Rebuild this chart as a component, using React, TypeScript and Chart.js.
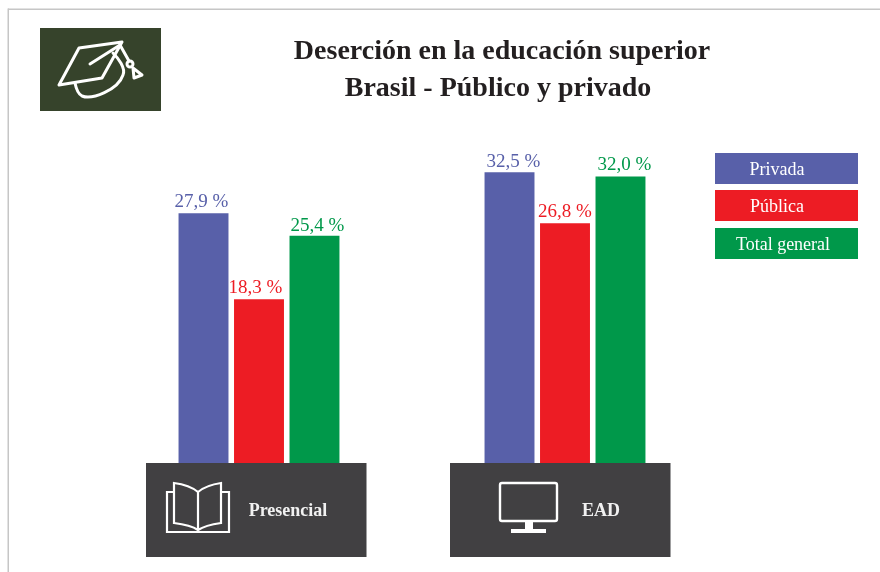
import React, { useEffect, useRef } from "react";
import { Chart, registerables } from "chart.js";

Chart.register(...registerables);

const categories = ["Presencial", "EAD"];
const seriesNames = ["Privada", "Pública", "Total general"];
const privada = [27.9, 32.5];
const publica = [18.3, 26.8];
const totalGeneral = [25.4, 32.0];
const titleLines = ["Deserción en la educación superior", "Brasil - Público y privado"];

const SERIF = '"Liberation Serif", serif';
const PURPLE = "#5860a9";
const RED = "#ed1c24";
const GREEN = "#00984a";

// nudges of the value labels relative to the top centre of each bar: [series][group] = [dx, dy]
const LABEL_NUDGE = [
  [[-2, -6], [4, -5]],
  [[-3.5, -6], [0, -6]],
  [[3, -5], [4, -7]],
];

function drawCap(c: CanvasRenderingContext2D) {
  c.fillStyle = "#36432b";
  c.fillRect(40, 28, 121, 83);
  c.strokeStyle = "#fff";
  c.lineWidth = 3;
  c.lineJoin = "round";
  c.lineCap = "round";
  c.stroke(new Path2D("M59 85 L79 48 L122 42 L102 78 Z"));
  c.stroke(new Path2D("M90 64 L120 45"));
  c.stroke(new Path2D("M113 53 C118 58 126 68 123 75 C118 90 92 100 82 96 C78 94 76 88 75 83"));
  c.stroke(new Path2D("M120 45 L129 61"));
  c.stroke(new Path2D("M133 68 L142 75 L134 78 Z"));
  c.beginPath();
  c.arc(130, 64, 3, 0, Math.PI * 2);
  c.stroke();
}

function drawBook(c: CanvasRenderingContext2D, cx: number) {
  c.strokeStyle = "#fff";
  c.lineWidth = 2.2;
  c.lineJoin = "miter";
  c.save();
  c.translate(cx - 259, 0);
  c.stroke(new Path2D("M174 492 H167 V532 H229 V492 H221"));
  c.stroke(new Path2D("M198 530 V492 C192 487 182 484 174 483 V523 C182 524 192 526 198 530 C204 526 214 524 221 523 V483 C214 484 204 487 198 492"));
  c.restore();
}

function drawMonitor(c: CanvasRenderingContext2D, cx: number) {
  c.save();
  c.translate(cx - 565, 0);
  c.strokeStyle = "#fff";
  c.fillStyle = "#fff";
  c.lineWidth = 2.4;
  c.beginPath();
  c.roundRect(500, 483, 57, 38, 2);
  c.stroke();
  c.fillRect(525, 521, 8, 8);
  c.fillRect(511, 529, 35, 4);
  c.restore();
}

const decorPlugin = {
  id: "decor",
  beforeDraw(chart: any) {
    const c = chart.ctx as CanvasRenderingContext2D;
    c.save();
    c.fillStyle = "#fff";
    c.fillRect(0, 0, 880, 572);
    c.fillStyle = "#c6c6c6";
    c.fillRect(8, 8.5, 872, 1.5);
    c.fillRect(7.5, 8.5, 1.5, 564);
    drawCap(c);
    c.fillStyle = "#231f20";
    c.font = `bold 28px ${SERIF}`;
    c.textAlign = "center";
    c.textBaseline = "alphabetic";
    c.fillText(titleLines[0], 502, 59);
    c.fillText(titleLines[1], 498, 96);

    const tops = [153, 190, 228];
    chart.data.datasets.forEach((d: any, i: number) => {
      c.fillStyle = d.backgroundColor;
      c.fillRect(715, tops[i], 143, 31);
      c.fillStyle = "#fff";
      c.font = `18px ${SERIF}`;
      c.textAlign = "center";
      c.fillText(d.label, i === 2 ? 783 : 777, tops[i] + 22);
    });
    c.restore();
  },
  afterDatasetsDraw(chart: any) {
    const c = chart.ctx as CanvasRenderingContext2D;
    c.save();
    chart.data.datasets.forEach((d: any, i: number) => {
      const meta = chart.getDatasetMeta(i);
      meta.data.forEach((bar: any, j: number) => {
        const [dx, dy] = LABEL_NUDGE[i][j];
        c.fillStyle = d.backgroundColor;
        c.font = `19px ${SERIF}`;
        c.textAlign = "center";
        c.textBaseline = "alphabetic";
        c.fillText(d.data[j].toFixed(1).replace(".", ",") + " %", bar.x + dx, bar.y + dy);
      });
    });
    const xs = chart.scales.x;
    chart.data.labels.forEach((label: string, j: number) => {
      const cx = xs.getPixelForValue(j);
      const left = j === 0 ? cx - 113 : cx - 115;
      c.fillStyle = "#414042";
      c.fillRect(left, 463, 220.5, 94);
      c.fillStyle = "#f1f1f1";
      c.font = `bold 18px ${SERIF}`;
      c.textAlign = "center";
      c.textBaseline = "alphabetic";
      c.fillText(label, j === 0 ? cx + 29 : cx + 36, 516);
      if (j === 0) drawBook(c, cx);
      else drawMonitor(c, cx);
    });
    c.restore();
  },
};

export default function App() {
  const ref = useRef<HTMLCanvasElement>(null);
  useEffect(() => {
    const chart = new Chart(ref.current!, {
      type: "bar",
      data: {
        labels: categories,
        datasets: [
          { label: seriesNames[0], data: privada, backgroundColor: PURPLE },
          { label: seriesNames[1], data: publica, backgroundColor: RED },
          { label: seriesNames[2], data: totalGeneral, backgroundColor: GREEN },
        ],
      },
      options: {
        responsive: false,
        animation: false,
        layout: { padding: { left: 106, right: 162, top: 140.8, bottom: 109 } },
        datasets: { bar: { categoryPercentage: 0.544, barPercentage: 0.9, borderWidth: 0 } },
        plugins: { legend: { display: false }, title: { display: false }, tooltip: { enabled: false } },
        scales: {
          x: { display: false },
          y: { display: false, min: 0, max: 36 },
        },
      },
      plugins: [decorPlugin],
    } as any);
    return () => chart.destroy();
  }, []);
  return (
    <canvas
      ref={ref}
      width={880}
      height={572}
      style={{ position: "absolute", left: 0, top: 0, display: "block" }}
    />
  );
}
